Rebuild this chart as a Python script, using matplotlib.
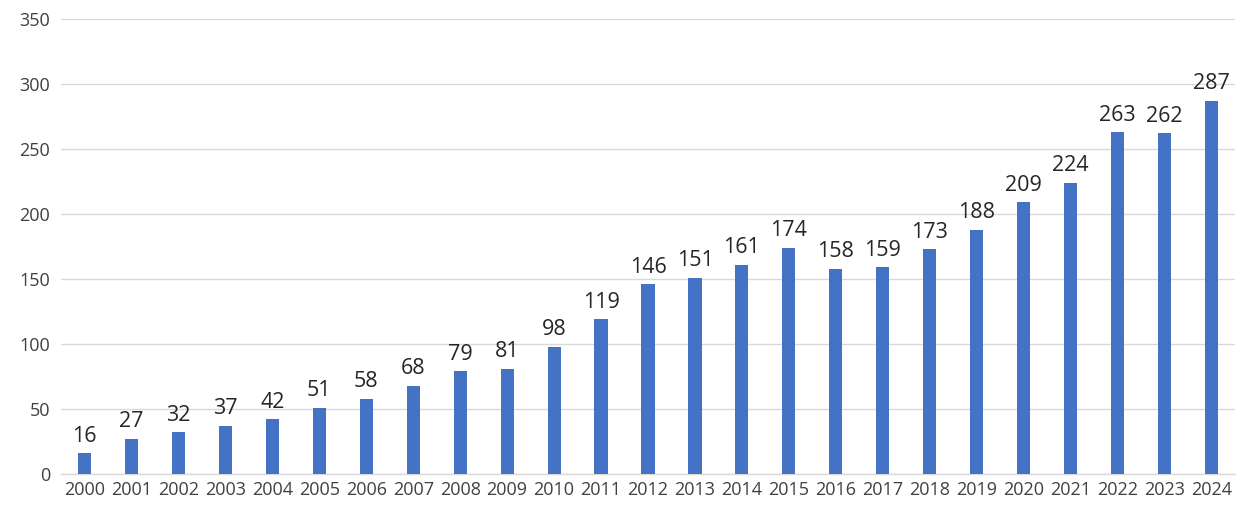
import matplotlib
matplotlib.use("Agg")
import matplotlib.pyplot as plt

years = [str(y) for y in range(2000, 2025)]
values = [16, 27, 32, 37, 42, 51, 58, 68, 79, 81, 98, 119, 146, 151, 161, 174,
          158, 159, 173, 188, 209, 224, 263, 262, 287]
yticks = [0, 50, 100, 150, 200, 250, 300, 350]

plt.rcParams['font.family'] = ['Open Sans', 'DejaVu Sans']

fig = plt.figure(figsize=(12.54, 5.12), dpi=100)
ax = fig.add_axes([61 / 1254, 38 / 512, (1235 - 61) / 1254, (474 - 19) / 512])
x = list(range(len(years)))
ax.bar(x, values, width=0.28, color='#4472C4', zorder=3)
for xi, v in zip(x, values):
    ax.text(xi, v + 5, str(v), ha='center', va='bottom', fontsize=15.5, color='#262626')

ax.set_xlim(-0.5, len(years) - 0.5)
ax.set_ylim(0, 350)
ax.set_yticks(yticks)
ax.set_xticks(x)
ax.set_xticklabels(years)
ax.tick_params(axis='both', length=0, labelsize=13, colors='#404040')
ax.tick_params(axis='y', pad=8)
ax.tick_params(axis='x', pad=5)
ax.grid(axis='y', color='#D9D9D9', linewidth=1, zorder=0)
for s in ['top', 'right', 'left']:
    ax.spines[s].set_visible(False)
ax.spines['bottom'].set_color('#D9D9D9')
ax.spines['bottom'].set_linewidth(1)

fig.savefig('out.png', dpi=100)
